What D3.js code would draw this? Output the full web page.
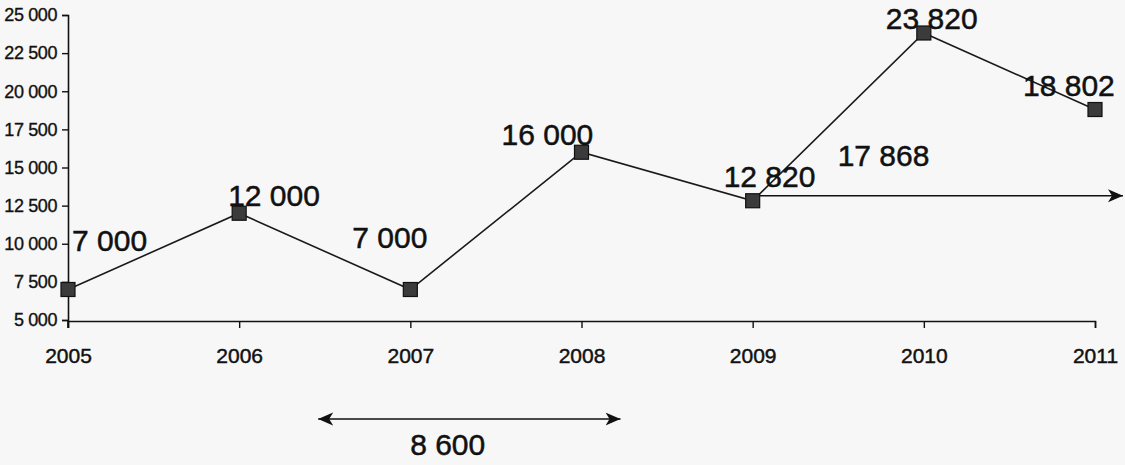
<!DOCTYPE html>
<html><head><meta charset="utf-8">
<script src="https://cdn.jsdelivr.net/npm/d3@7"></script>
<style>html,body{margin:0;padding:0;background:#f7f7f7;overflow:hidden}svg{display:block}</style>
</head><body><svg id="c" width="1125" height="465"></svg>
<script>
// ---- data ----
const years = ["2005", "2006", "2007", "2008", "2009", "2010", "2011"];
const values = [7000, 12000, 7000, 16000, 12820, 23820, 18802];
const yTickValues = [5000, 7500, 10000, 12500, 15000, 17500, 20000, 22500, 25000];
const annotationGrowth = "17 868";
const annotationSpan = "8 600";

// ---- layout / style (kept separate from data) ----
const W = 1125, H = 465;
const labelDx = [4, -11, -58, -80, -29, -38, -72];
const labelDy = [-39, -7, -42, -7, -14, -4, -14];
const font = "'Liberation Sans', Arial, Helvetica, sans-serif";
const ink = "#111";

const svg = d3.select("#c");
svg.append("rect").attr("width", W).attr("height", H).attr("fill", "#f7f7f7");

const x = d3.scalePoint().domain(years).range([68, 1095]);
const y = d3.scaleLinear().domain([5000, 25000]).range([320, 15]);
const fmt = d3.formatLocale({decimal: ",", thousands: " ", grouping: [3], currency: ["", ""]}).format(",");

function inkText(sel, size, sw) {
  sel.attr("fill", ink).attr("stroke", ink).attr("stroke-width", sw)
    .style("font-family", font).style("font-size", size + "px");
}

// Y axis
const gy = svg.append("g").attr("transform", "translate(68,0)")
  .call(d3.axisLeft(y).tickValues(yTickValues).tickFormat(fmt).tickSize(6).tickPadding(5));
gy.select(".domain").attr("stroke", ink).attr("stroke-width", 1.6);
gy.selectAll(".tick line").attr("stroke", ink).attr("stroke-width", 1.4);
gy.selectAll(".tick text").call(inkText, 18, 0.35).style("letter-spacing", "-0.4px");
gy.append("line").attr("x1", 0).attr("x2", 0).attr("y1", y(5000)).attr("y2", y(5000) + 8)
  .attr("stroke", ink).attr("stroke-width", 1.6);

// X axis
const gx = svg.append("g").attr("transform", `translate(0,${y(5000) + 1})`)
  .call(d3.axisBottom(x).tickSize(7).tickPadding(20));
gx.select(".domain").attr("stroke", ink).attr("stroke-width", 1.6);
gx.selectAll(".tick line").attr("stroke", ink).attr("stroke-width", 1.4);
gx.selectAll(".tick text").call(inkText, 21, 0.45);

// line
const pts = years.map((yr, i) => [x(yr), y(values[i])]);
svg.append("path").attr("d", d3.line()(pts)).attr("fill", "none")
  .attr("stroke", "#1a1a1a").attr("stroke-width", 1.6);

// arrowhead defs
const defs = svg.append("defs");
defs.append("marker").attr("id", "ah").attr("viewBox", "0 -7 16 14")
  .attr("refX", 15).attr("refY", 0).attr("markerWidth", 16).attr("markerHeight", 14)
  .attr("markerUnits", "userSpaceOnUse").attr("orient", "auto-start-reverse")
  .append("path").attr("d", "M0,-6.5L15,0L0,6.5L4,0Z").attr("fill", ink);

// horizontal arrow from 2009
const ay = y(values[4]) - 5;
svg.append("line").attr("x1", x("2009") + 7).attr("x2", W - 2).attr("y1", ay).attr("y2", ay)
  .attr("stroke", ink).attr("stroke-width", 1.7).attr("marker-end", "url(#ah)");
svg.append("text").attr("x", x("2009") + 85).attr("y", ay - 30).text(annotationGrowth)
  .call(inkText, 30, 0.5);

// bottom double arrow
const by = 419;
const bx1 = x("2006") + 79, bx2 = x("2008") + 39;
svg.append("line").attr("x1", bx1).attr("x2", bx2).attr("y1", by).attr("y2", by)
  .attr("stroke", ink).attr("stroke-width", 1.7)
  .attr("marker-start", "url(#ah)").attr("marker-end", "url(#ah)");
svg.append("text").attr("x", bx1 + 92).attr("y", 455).text(annotationSpan)
  .call(inkText, 30, 0.5);

// markers
svg.append("g").selectAll("rect").data(values).join("rect")
  .attr("x", (d, i) => x(years[i]) - 7).attr("y", d => y(d) - 7)
  .attr("width", 14).attr("height", 14)
  .attr("fill", "#3b3b3b").attr("stroke", ink).attr("stroke-width", 1.2);

// value labels
svg.append("g").selectAll("text").data(values).join("text")
  .attr("x", (d, i) => x(years[i]) + labelDx[i])
  .attr("y", (d, i) => y(d) + labelDy[i])
  .text(d => fmt(d))
  .call(inkText, 30, 0.5);
</script>
</body></html>
